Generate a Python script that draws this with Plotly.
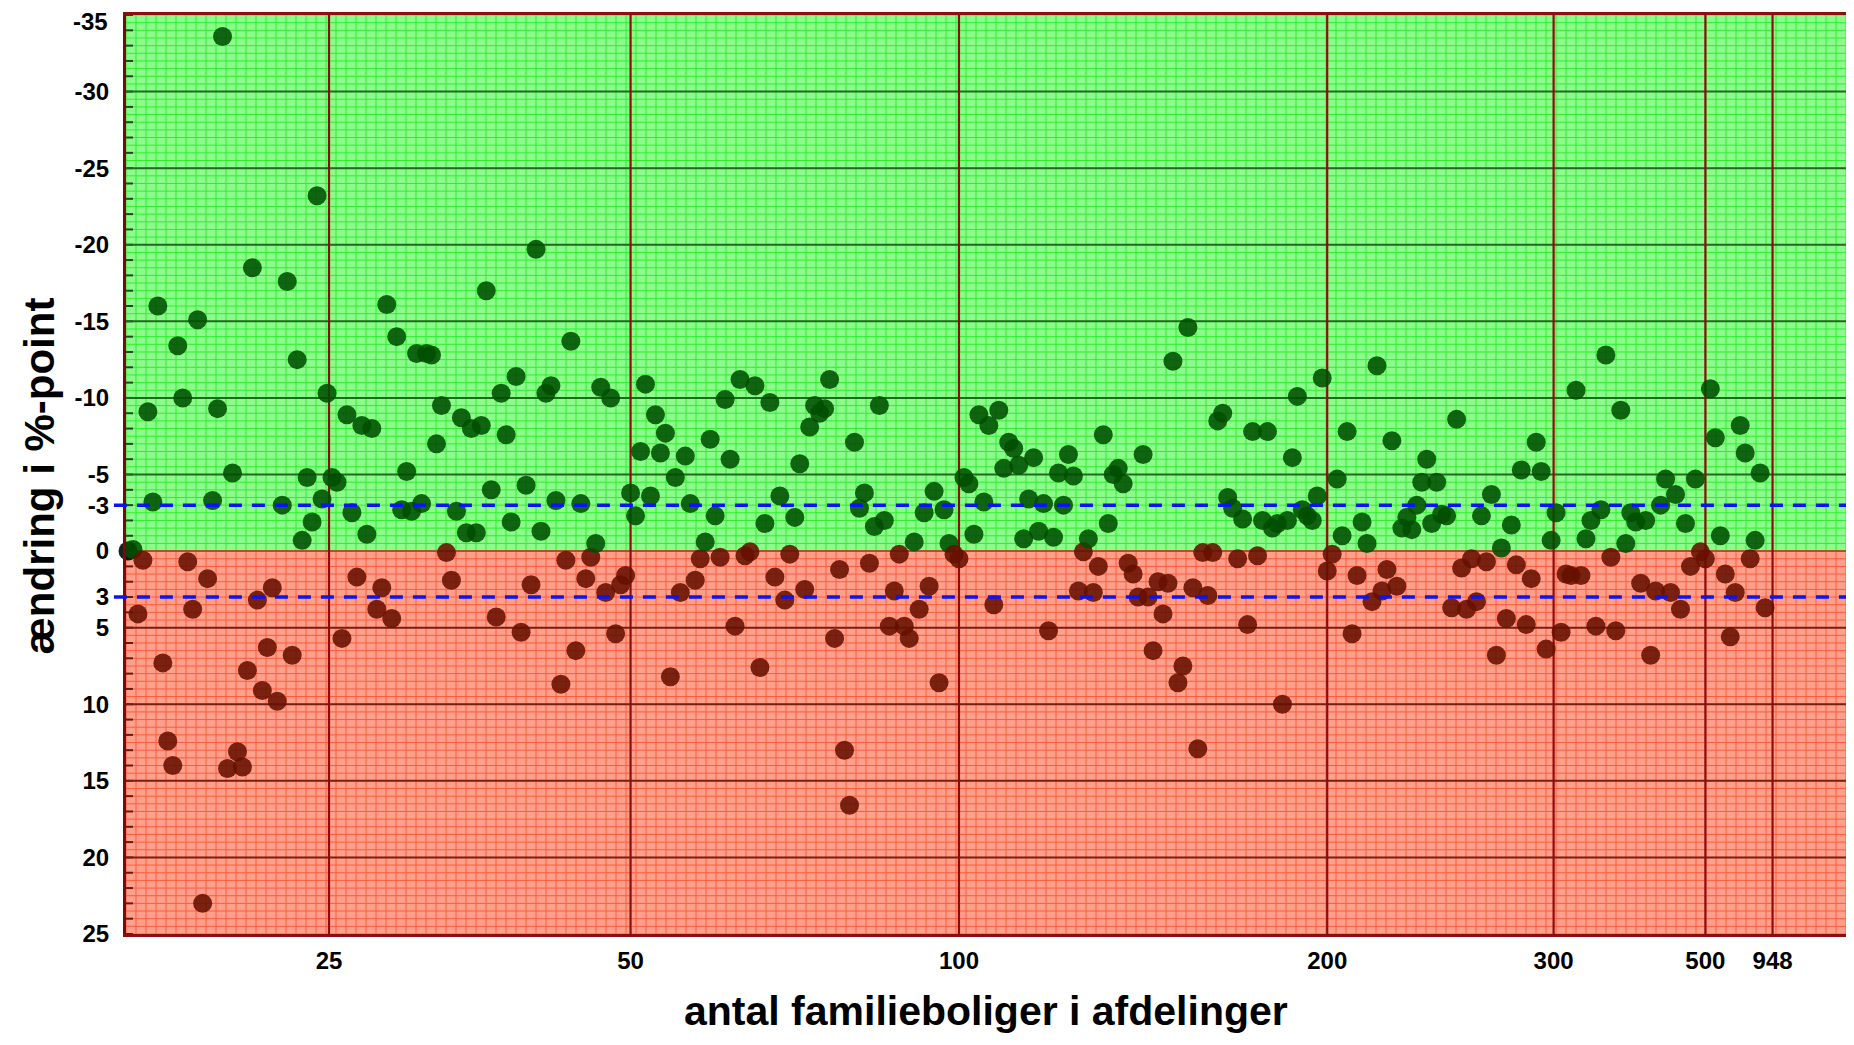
import plotly.graph_objects as go

# change in %-point for each afdeling, ordered by number of family dwellings (rank order)
change = [
    0.0,
    # ~ up to 25 dwellings
    -0.1, 4.1, 0.6, -9.1, -3.2, -16.0, 7.3, 12.4, 14.0, -13.4, -10.0, 0.7, 3.8, -15.1, 23.0, 1.8,
    -3.3, -9.3, -33.6, 14.2, -5.1, 13.1, 14.1, 7.8, -18.5, 3.2, 9.1, 6.3, 2.4, 9.8, -3.0, -17.6,
    6.8, -12.5, -0.7, -4.8, -1.9, -23.2, -3.4, -10.3, -4.8, -4.5, 5.7, -8.9, -2.5, 1.7, -8.2, -1.1,
    -8.0, 3.8, 2.4, -16.1,
    # 25 - 50
    4.4, -14.0, -2.7, -5.2, -2.6, -12.9, -3.1, -12.9, -12.8, -7.0, -9.5, 0.1, 1.9, -2.6, -8.7, -1.2,
    -8.0, -1.2, -8.2, -17.0, -4.0, 4.3, -10.3, -7.6, -1.9, -11.4, 5.3, -4.3, 2.2, -19.7, -1.3, -10.3,
    -10.8, -3.3, 8.7, 0.6, -13.7, 6.5, -3.1, 1.8, 0.4, -0.5, -10.7, 2.7, -10.0, 5.4, 2.2, 1.6, -3.8,
    # 50 - 100
    -2.3, -6.5, -10.9, -3.6, -8.9, -6.4, -7.7, 8.2, -4.8, 2.7, -6.2, -3.1, 1.9, 0.5, -0.6, -7.3,
    -2.3, 0.4, -9.9, -6.0, 4.9, -11.2, 0.3, 0.05, -10.8, 7.6, -1.8, -9.7, 1.7, -3.6, 3.2, 0.2,
    -2.2, -5.7, 2.5, -8.1, -9.5, -9.0, -9.3, -11.2, 5.7, 1.2, 13.0, 16.6, -7.1, -2.8, -3.8, 0.8,
    -1.6, -9.5, -2.0,
    4.9, 2.6, 0.2, 4.9, 5.7, -0.6, 3.8, -2.5, 2.3, -3.9, 8.6, -2.7, -0.5, 0.2, 0.5,
    # 100 - 200
    -4.8, -4.4, -1.1, -8.9, -3.2, -8.2, 3.5, -9.2, -5.4, -7.1, -6.7, -5.6, -0.8, -3.4, -6.1, -1.3,
    -3.1, 5.2, -0.9, -5.1, -3.0, -6.3, -4.9, 2.6, 0.05, -0.8, 2.7, 1.0, -7.6, -1.8, -5.0, -5.4,
    -4.4, 0.8, 1.5, 3.0,
    -6.3, 3.0, 6.5, 2.0, 4.1, 2.1, -12.4, 8.6, 7.5, -14.6, 2.4, 12.9, 0.1, 2.9, 0.1, -8.5,
    -9.0, -3.5, -2.8, 0.5, -2.1, 4.8, -7.8, 0.3, -2.0, -7.8, -1.5, -1.8, 10.0, -2.0, -6.1, -10.1,
    -2.7, -2.3, -2.0, -3.6, -11.3, 1.3,
    # 200 - 300
    0.2, -4.7, -1.0, -7.8, 5.4, 1.6, -1.9, -0.5, 3.3, -12.1, 2.6, 1.2,
    -7.2, 2.3, -1.5, -2.2, -1.4, -3.0, -4.5, -6.0, -1.8, -4.5, -2.4, -2.3, 3.7, -8.6, 1.1, 3.8,
    0.5, 3.3, -2.3, 0.7, -3.7, 6.8, -0.2, 4.4, -1.7, 0.9, -5.3, 4.8, 1.8, -7.1, -5.2, 6.4, -0.7,
    # 300 - 948
    -2.5, 5.3, 1.5, 1.6, -10.5, 1.6, -0.8, -2.0, 4.9, -2.7, -12.8, 0.4, 5.2, -9.2, -0.5, -2.5, -1.9,
    2.1, -2.0, 6.8, 2.6, -3.0, -4.7, 2.7, -3.7, 3.8, -1.8, 1.0, -4.7, 0.05, 0.5, -10.6, -7.4,
    -1.0, 1.5, 5.6, 2.7, -8.2, -6.4, 0.5, -0.7, -5.1, 3.7,
]
rank = list(range(1, len(change) + 1))

# x tick positions (rank at which the afdeling size reaches the label)
size_tick_rank = [41.4, 102, 168, 242, 287.5, 318, 331.5]
size_tick_text = ["25", "50", "100", "200", "300", "500", "948"]

y_tick_vals = [-30, -25, -20, -15, -10, -5, -3, 0, 3, 5, 10, 15, 20, 25]
y_top_label = -35
green_major = [-30, -25, -20, -15, -10, -5]
red_major = [5, 10, 15, 20]
limit_lines = [-3, 3]

FIG_W, FIG_H = 1844, 1029
M_L, M_T, M_R = 118, 7, 0
PLOT_H = 919
M_B = FIG_H - M_T - PLOT_H
PLOT_W = FIG_W - M_L - M_R
PX_PER_RANK = 4.976
X_MIN = 0.6
X_MAX = X_MIN + PLOT_W / PX_PER_RANK
Y_TOP, Y_BOT = -35, 25


def segs_h(yvals, x0, x1):
    xs, ys = [], []
    for y in yvals:
        xs += [x0, x1, None]
        ys += [y, y, None]
    return xs, ys


def segs_v(xvals, y0, y1):
    xs, ys = [], []
    for x in xvals:
        xs += [x, x, None]
        ys += [y0, y1, None]
    return xs, ys


def frange(a, b, step):
    out = []
    v = a
    while v <= b + 1e-9:
        out.append(round(v, 4))
        v += step
    return out


fig = go.Figure()

# fine graph-paper grid
fine_x = frange(X_MIN, X_MAX, 10 / PX_PER_RANK)
fine_y_green = frange(Y_TOP, 0, 0.5)
fine_y_red = frange(0, Y_BOT, 0.5)

for (ylist, y0, y1, col) in [(fine_y_green, Y_TOP, 0, "#2cf02c"), (fine_y_red, 0, Y_BOT, "#ff5a3a")]:
    hx, hy = segs_h(ylist, X_MIN, X_MAX)
    vx, vy = segs_v(fine_x, y0, y1)
    fig.add_trace(go.Scatter(x=hx + vx, y=hy + vy, mode="lines",
                             line=dict(color=col, width=1), hoverinfo="skip", showlegend=False))

# minor ticks on the left edge
tick_len = 7 / PX_PER_RANK
mx, my = segs_h(frange(Y_TOP, -1, 1), X_MIN, X_MIN + tick_len)
fig.add_trace(go.Scatter(x=mx, y=my, mode="lines", line=dict(color="#1d4a1d", width=2),
                         hoverinfo="skip", showlegend=False))
mx, my = segs_h(frange(1, Y_BOT, 1), X_MIN, X_MIN + tick_len)
fig.add_trace(go.Scatter(x=mx, y=my, mode="lines", line=dict(color="#6a1a0c", width=2),
                         hoverinfo="skip", showlegend=False))

# major horizontal lines
gx, gy = segs_h(green_major, X_MIN, X_MAX)
fig.add_trace(go.Scatter(x=gx, y=gy, mode="lines", line=dict(color="#1f6a1f", width=2),
                         hoverinfo="skip", showlegend=False))
rx, ry = segs_h(red_major, X_MIN, X_MAX)
fig.add_trace(go.Scatter(x=rx, y=ry, mode="lines", line=dict(color="#7a1e10", width=2),
                         hoverinfo="skip", showlegend=False))
zx, zy = segs_h([0], X_MIN, X_MAX)
fig.add_trace(go.Scatter(x=zx, y=zy, mode="lines", line=dict(color="#c0301c", width=1.5),
                         hoverinfo="skip", showlegend=False))
# major vertical lines at size ticks
vx, vy = segs_v(size_tick_rank, Y_TOP, Y_BOT)
fig.add_trace(go.Scatter(x=vx, y=vy, mode="lines", line=dict(color="#8e0c0c", width=2.2),
                         hoverinfo="skip", showlegend=False))

# data points
colors = ["#004f00" if v < 0 else ("#661000" if v > 0 else "#000000") for v in change]
fig.add_trace(go.Scatter(x=rank, y=change, mode="markers", cliponaxis=False,
                         marker=dict(size=19, color=colors, opacity=0.88, line=dict(width=0)),
                         showlegend=False))

shapes = [
    dict(type="rect", xref="x", yref="y", x0=X_MIN, x1=X_MAX, y0=Y_TOP, y1=0,
         fillcolor="#8cfb8c", line=dict(width=0), layer="below"),
    dict(type="rect", xref="x", yref="y", x0=X_MIN, x1=X_MAX, y0=0, y1=Y_BOT,
         fillcolor="#ffa08c", line=dict(width=0), layer="below"),
]
for yv in limit_lines:
    shapes.append(dict(type="line", xref="paper", yref="y", x0=-0.007, x1=1, y0=yv, y1=yv,
                       line=dict(color="#0a14f5", width=3.5, dash="13px,10px"), layer="above"))

font_family = "Liberation Sans, Arial, sans-serif"
tick_font = dict(family=font_family, size=24, color="black", weight="bold")
fig.update_layout(
    width=FIG_W, height=FIG_H,
    margin=dict(l=M_L, r=M_R, t=M_T, b=M_B),
    paper_bgcolor="white", plot_bgcolor="white",
    shapes=shapes,
    xaxis=dict(range=[X_MIN, X_MAX], tickmode="array", tickvals=size_tick_rank,
               ticktext=size_tick_text, showgrid=False, zeroline=False,
               showline=True, mirror=True, linecolor="#8a1010", linewidth=3, ticks="",
               ticklabelstandoff=3, tickfont=tick_font),
    yaxis=dict(range=[Y_BOT, Y_TOP], tickmode="array", tickvals=y_tick_vals,
               ticktext=[str(v) for v in y_tick_vals], showgrid=False, zeroline=False,
               showline=True, mirror=False, linecolor="#7a0a0a", linewidth=3, ticks="",
               ticklabelstandoff=9, tickfont=tick_font),
    annotations=[
        dict(text=str(y_top_label), xref="paper", yref="y", x=0, y=y_top_label + 0.45,
             xanchor="right", yanchor="middle", xshift=-16, showarrow=False, font=tick_font),
        dict(text="ændring i %-point", xref="paper", yref="paper", x=-0.0503, y=0.498,
             xanchor="center", yanchor="middle", textangle=-90, showarrow=False,
             font=dict(family=font_family, size=42, color="black", weight="bold")),
        dict(text="antal familieboliger i afdelinger", xref="paper", yref="paper",
             x=0.498, y=-(FIG_H - 2 - M_T - PLOT_H) / PLOT_H, xanchor="center", yanchor="bottom",
             showarrow=False, borderpad=0,
             font=dict(family=font_family, size=41, color="black", weight="bold")),
    ],
)

fig.write_html("out.html")
